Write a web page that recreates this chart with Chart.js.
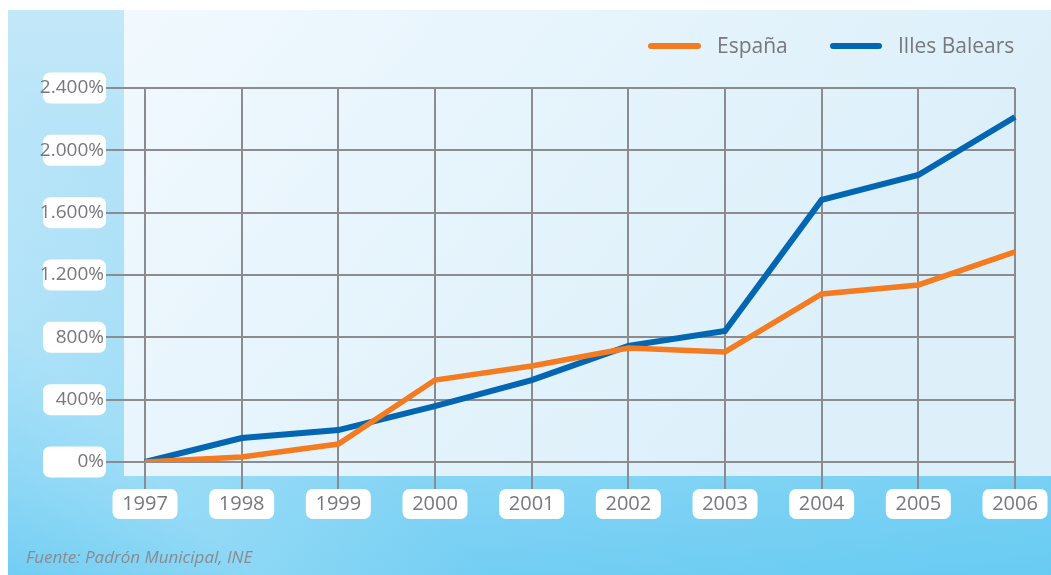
<!DOCTYPE html>
<html>
<head>
<meta charset="utf-8">
<script src="https://cdn.jsdelivr.net/npm/chart.js@4.4.1/dist/chart.umd.min.js"></script>
<style>
html, body { margin: 0; padding: 0; background: #fff; overflow: hidden; }
canvas { display: block; }
</style>
</head>
<body>
<canvas id="chart" width="1051" height="575"></canvas>
<script>
// datos (crecimiento acumulado de poblacion extranjera, %)
const years = ['1997', '1998', '1999', '2000', '2001', '2002', '2003', '2004', '2005', '2006'];
const espana = [0, 32, 115, 526, 616, 731, 706, 1078, 1136, 1348];
const baleares = [0, 154, 205, 359, 526, 745, 841, 1682, 1842, 2214];
const yMax = 2400;
const yStep = 400;
const source = 'Fuente: Padrón Municipal, INE';

const grey = '#77777c';
const gridColor = '#8b8b90';
const font = '"Open Sans", "DejaVu Sans", sans-serif';

function fmt(v) {
  return String(v).replace(/\B(?=(\d{3})+(?!\d))/g, '.') + '%';
}

function roundBox(ctx, x, y, w, h, r) {
  ctx.beginPath();
  ctx.roundRect(x, y, w, h, r);
  ctx.fill();
}

const decor = {
  id: 'decor',
  beforeDraw(chart) {
    const ctx = chart.ctx;
    const area = chart.chartArea;
    const xs = chart.scales.x, ys = chart.scales.y;
    ctx.save();
    // marco azul (L izquierda + franja inferior)
    let g = ctx.createLinearGradient(0, 10, 0, 575);
    g.addColorStop(0, '#c3e8f9');
    g.addColorStop(0.45, '#a9dff7');
    g.addColorStop(0.82, '#86d5f5');
    g.addColorStop(1, '#72cef3');
    ctx.fillStyle = g;
    ctx.fillRect(8, 10, 1043, 565);
    // brillo diagonal suave
    g = ctx.createLinearGradient(8, 575, 260, 330);
    g.addColorStop(0, 'rgba(255,255,255,0)');
    g.addColorStop(0.5, 'rgba(255,255,255,0.18)');
    g.addColorStop(1, 'rgba(255,255,255,0)');
    ctx.fillStyle = g;
    ctx.fillRect(8, 10, 1043, 565);
    g = ctx.createLinearGradient(500, 575, 1051, 476);
    g.addColorStop(0, 'rgba(60,190,240,0.0)');
    g.addColorStop(1, 'rgba(60,190,240,0.18)');
    ctx.fillStyle = g;
    ctx.fillRect(124, 476, 927, 99);
    // panel claro
    g = ctx.createLinearGradient(124, 10, 700, 476);
    g.addColorStop(0, '#f1f9fe');
    g.addColorStop(0.5, '#e6f4fc');
    g.addColorStop(1, '#ddf0fa');
    ctx.fillStyle = g;
    ctx.fillRect(124, 10, 927, 466);

    // cajas blancas de las etiquetas
    ctx.fillStyle = '#ffffff';
    ys.ticks.forEach(t => {
      const py = ys.getPixelForValue(t.value);
      roundBox(ctx, 43, py - 15.5, 63, 31, 7);
    });
    xs.ticks.forEach((t, i) => {
      const px = xs.getPixelForTick(i);
      roundBox(ctx, px - 32.5, area.bottom + 27, 65, 30, 7);
    });
    ctx.restore();
  },
  afterDraw(chart) {
    const ctx = chart.ctx;
    ctx.save();
    // leyenda
    const items = [
      { ds: chart.data.datasets[0], x1: 651, x2: 698, tx: 717 },
      { ds: chart.data.datasets[1], x1: 833, x2: 879, tx: 898 }
    ];
    ctx.lineCap = 'round';
    ctx.font = '21px ' + font;
    ctx.textBaseline = 'middle';
    ctx.textAlign = 'left';
    items.forEach(it => {
      ctx.strokeStyle = it.ds.borderColor;
      ctx.lineWidth = 6;
      ctx.beginPath();
      ctx.moveTo(it.x1, 46);
      ctx.lineTo(it.x2, 46);
      ctx.stroke();
      ctx.fillStyle = grey;
      ctx.fillText(it.ds.label, it.tx, 47);
    });
    // fuente
    ctx.font = 'italic 17px ' + font;
    ctx.fillStyle = '#8a8a90';
    ctx.textBaseline = 'alphabetic';
    ctx.fillText(source, 26, 563);
    ctx.restore();
  }
};

new Chart(document.getElementById('chart'), {
  type: 'line',
  data: {
    labels: years,
    datasets: [
      {
        label: 'España',
        data: espana,
        borderColor: '#f47b20',
        borderWidth: 5.5,
        pointRadius: 0,
        tension: 0,
        borderJoinStyle: 'miter'
      },
      {
        label: 'Illes Balears',
        data: baleares,
        borderColor: '#0366b2',
        borderWidth: 6,
        pointRadius: 0,
        tension: 0,
        borderJoinStyle: 'miter'
      }
    ]
  },
  options: {
    responsive: false,
    animation: false,
    devicePixelRatio: 1,
    layout: { padding: { left: 0, right: 36, top: 88, bottom: 0 } },
    plugins: {
      legend: { display: false },
      tooltip: { enabled: false }
    },
    scales: {
      x: {
        offset: false,
        afterFit(s) { s.height = 113; },
        grid: { color: gridColor, lineWidth: 2, tickLength: 27, tickColor: gridColor },
        border: { color: gridColor, width: 2 },
        ticks: {
          color: grey,
          padding: 3,
          maxRotation: 0,
          font: { family: font, size: 20 }
        }
      },
      y: {
        min: 0,
        max: yMax,
        afterFit(s) { s.width = 145; },
        grid: { color: gridColor, lineWidth: 2, tickLength: 39, tickColor: gridColor },
        border: { color: gridColor, width: 2 },
        ticks: {
          stepSize: yStep,
          color: grey,
          padding: 2,
          font: { family: font, size: 19 },
          callback: v => fmt(v)
        }
      }
    }
  },
  plugins: [decor]
});
</script>
</body>
</html>
